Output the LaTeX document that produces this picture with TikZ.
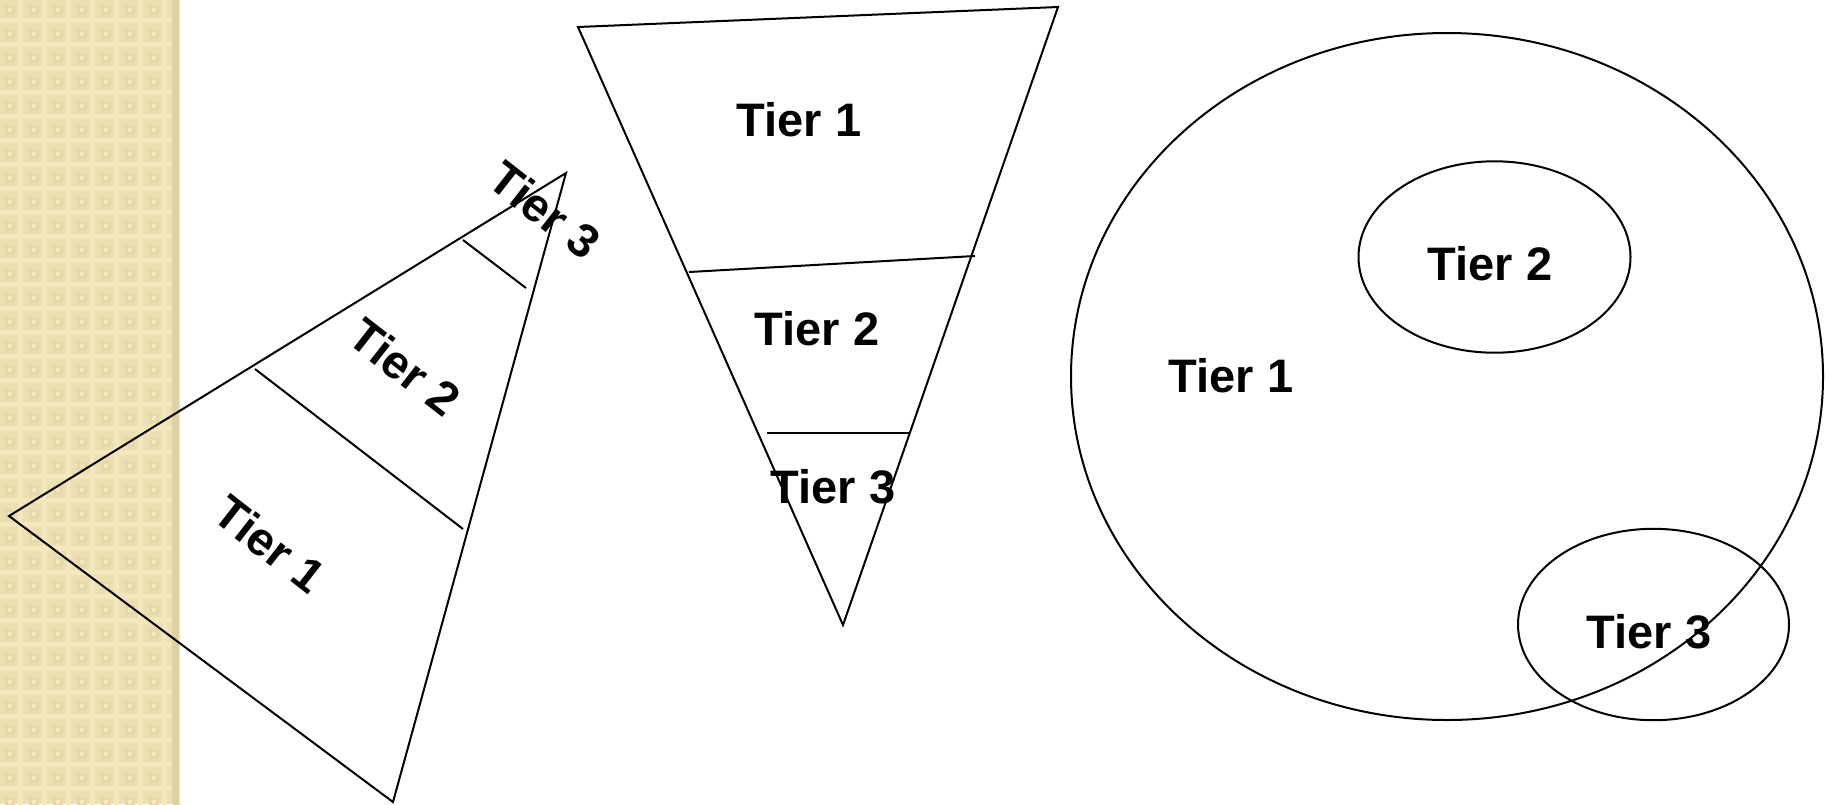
\documentclass[tikz,border=0pt]{standalone}
\usepackage{fontspec}
\setmainfont{Liberation Sans}
\definecolor{weavebase}{RGB}{236,223,178}
\definecolor{weavelight}{RGB}{243,231,190}
\definecolor{weavedark}{RGB}{230,216,168}
\definecolor{weaveedge}{RGB}{224,209,160}
\begin{document}
\begin{tikzpicture}[x=0.5pt,y=-0.5pt,
  edge/.style={line width=1pt, line join=miter},
  tierlabel/.style={font=\fontsize{23.5}{28}\selectfont\bfseries, inner sep=0pt},
]
\useasboundingbox (0,0) rectangle (1830,804);

% woven side strip
\begin{scope}
  \clip (0,0) rectangle (180,804);
  \fill[weavebase] (0,0) rectangle (180,804);
  \foreach \i in {0,...,7} {
    \foreach \j in {0,...,33} {
      \fill[weavelight] (\i*24,\j*24+18) rectangle ++(24,5);
      \fill[weavelight] (\i*24+18,\j*24) rectangle ++(5,24);
      \fill[weavedark] (\i*24+5,\j*24+5) rectangle ++(10,10);
      \fill[weavelight] (\i*24+8,\j*24+8) rectangle ++(4,4);
    }
  }
  \fill[weaveedge] (172,0) rectangle (180,804);
  \fill[weavebase!75!gray!45] (178.5,0) rectangle (180,804);
\end{scope}

% tilted pyramid
\coordinate (lA) at (9,516);
\coordinate (lB) at (566,173);
\coordinate (lC) at (393,802);
\coordinate (l1a) at (255,369);
\coordinate (l1b) at (463,529);
\coordinate (l2a) at (463,240);
\coordinate (l2b) at (526,288);
\draw[edge] (lA) -- (lB) -- (lC) -- cycle;
\draw[edge] (l1a) -- (l1b);
\draw[edge] (l2a) -- (l2b);
\node[tierlabel, rotate=-38] (lt1) at (270,544) {Tier 1};
\node[tierlabel, rotate=-38] (lt2) at (405,367) {Tier 2};
\node[tierlabel, rotate=-38] (lt3) at (545,210) {Tier 3};

% inverted pyramid
\coordinate (mA) at (578,27);
\coordinate (mB) at (1058,7);
\coordinate (mC) at (843,625);
\coordinate (m1a) at (689,272);
\coordinate (m1b) at (975,256);
\coordinate (m2a) at (767,433);
\coordinate (m2b) at (910,433);
\draw[edge] (mA) -- (mB) -- (mC) -- cycle;
\draw[edge] (m1a) -- (m1b);
\draw[edge] (m2a) -- (m2b);
\node[tierlabel] (mt1) at (799,120) {Tier 1};
\node[tierlabel] (mt2) at (817,329) {Tier 2};
\node[tierlabel] (mt3) at (833,487) {Tier 3};

% nested ellipses
\coordinate (e1) at (1447,376.5);
\coordinate (e2) at (1494.5,257);
\coordinate (e3) at (1653.5,624.5);
\draw[edge] (e1) ellipse [x radius=376, y radius=343.5];
\draw[edge] (e2) ellipse [x radius=136, y radius=95.7];
\draw[edge] (e3) ellipse [x radius=135.5, y radius=95.7];
\node[tierlabel] (et1) at (1231,376) {Tier 1};
\node[tierlabel] (et2) at (1490,264) {Tier 2};
\node[tierlabel] (et3) at (1649,632) {Tier 3};
\end{tikzpicture}
\end{document}
